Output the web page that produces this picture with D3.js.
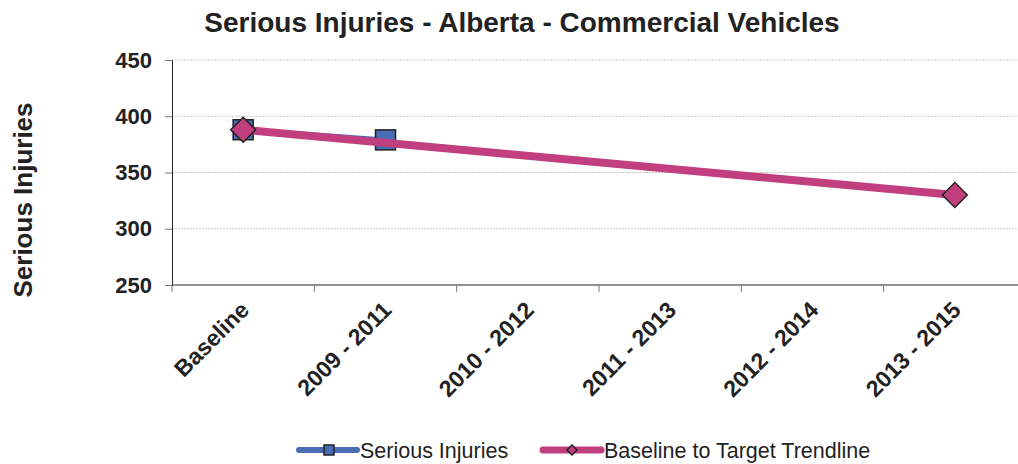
<!DOCTYPE html>
<html>
<head>
<meta charset="utf-8">
<script src="https://cdn.jsdelivr.net/npm/d3@7"></script>
<style>
  body { margin: 0; background: #fff; }
  svg { display: block; font-family: "Liberation Sans", Arial, sans-serif; }
</style>
</head>
<body>
<svg id="viz"></svg>
<script>
// Serious Injuries - Alberta - Commercial Vehicles
const categories = ["Baseline", "2009 - 2011", "2010 - 2012", "2011 - 2013", "2012 - 2014", "2013 - 2015"];
const seriousInjuries = [388, 379, null, null, null, null];
const trendline = [388, null, null, null, null, 330];
const yTicks = [250, 300, 350, 400, 450];

const width = 1018, height = 464;
const margin = { top: 60, left: 172, bottom: 179 };
const plotRight = 1026;

const svg = d3.select("#viz").attr("width", width).attr("height", height);

const x = d3.scaleBand().domain(categories).range([margin.left, plotRight]);
const y = d3.scaleLinear().domain([250, 450]).range([height - margin.bottom, margin.top]);

// gridlines
svg.append("g")
  .selectAll("line")
  .data(yTicks.slice(1))
  .join("line")
  .attr("x1", margin.left).attr("x2", width)
  .attr("y1", d => y(d)).attr("y2", d => y(d))
  .attr("stroke", "#c8c8c8")
  .attr("stroke-dasharray", "2,1")
  .attr("stroke-width", 1);

// y axis
const yAxis = svg.append("g")
  .attr("transform", `translate(${margin.left},0)`)
  .call(d3.axisLeft(y).tickValues(yTicks).tickSize(7).tickPadding(13));
yAxis.select(".domain").attr("stroke", "#222");
yAxis.selectAll(".tick line").attr("stroke", "#777");
yAxis.selectAll("text")
  .attr("fill", "#222")
  .style("font-size", "22px")
  .style("font-weight", "bold")
  .style("font-family", "Liberation Sans, Arial, sans-serif");

// x axis
const xAxis = svg.append("g")
  .attr("transform", `translate(0,${y(250)})`)
  .call(d3.axisBottom(x).tickSize(0).tickFormat(""));
xAxis.select(".domain").attr("stroke", "#222").attr("d", `M${margin.left},0H${plotRight}`);

// category dividers
svg.append("g")
  .selectAll("line")
  .data(categories.concat(["end"]))
  .join("line")
  .attr("x1", (d, i) => margin.left + i * x.step())
  .attr("x2", (d, i) => margin.left + i * x.step())
  .attr("y1", y(250)).attr("y2", y(250) + 7)
  .attr("stroke", "#777");

// x labels rotated
svg.append("g")
  .selectAll("text")
  .data(categories)
  .join("text")
  .attr("transform", d => `translate(${x(d) + x.bandwidth() / 2 - 4},${y(250) + 15}) rotate(-45)`)
  .attr("text-anchor", "end")
  .attr("dy", "0.7em")
  .attr("fill", "#222")
  .style("font-size", "23px")
  .style("font-weight", "bold")
  .text(d => d);

// title
svg.append("text")
  .attr("x", 522).attr("y", 32)
  .attr("text-anchor", "middle")
  .attr("fill", "#222")
  .style("font-size", "28px")
  .style("font-weight", "bold")
  .text("Serious Injuries - Alberta - Commercial Vehicles");

// y axis title
svg.append("text")
  .attr("transform", `translate(32,200) rotate(-90)`)
  .attr("text-anchor", "middle")
  .attr("fill", "#222")
  .style("font-size", "26px")
  .style("font-weight", "bold")
  .text("Serious Injuries");

const blue = "#4a6cb4", pink = "#c13f7e", outline = "#222";
const cx = d => x(d) + x.bandwidth() / 2;

function seriesPoints(vals) {
  return categories.map((c, i) => ({ c, v: vals[i] })).filter(d => d.v != null);
}

const line = d3.line().x(d => cx(d.c)).y(d => y(d.v));

const siPts = seriesPoints(seriousInjuries);
const trPts = seriesPoints(trendline);

svg.append("path").datum(siPts).attr("d", line)
  .attr("fill", "none").attr("stroke", blue).attr("stroke-width", 5);

svg.selectAll(".si-marker")
  .data(siPts)
  .join("rect")
  .attr("class", "si-marker")
  .attr("x", d => cx(d.c) - 10).attr("y", d => y(d.v) - 10)
  .attr("width", 20).attr("height", 20)
  .attr("fill", blue).attr("stroke", outline).attr("stroke-width", 1.5);

svg.append("path").datum(trPts).attr("d", line)
  .attr("fill", "none").attr("stroke", pink).attr("stroke-width", 8);

svg.selectAll(".tr-marker")
  .data(trPts)
  .join("path")
  .attr("class", "tr-marker")
  .attr("d", d3.symbol().type(d3.symbolSquare).size(310))
  .attr("transform", d => `translate(${cx(d.c)},${y(d.v)}) rotate(45)`)
  .attr("fill", pink).attr("stroke", outline).attr("stroke-width", 1.5);

// legend
const legend = svg.append("g").attr("transform", "translate(0,450)");
const legendItems = [
  { name: "Serious Injuries", color: blue, x0: 299, marker: "square", width: 6 },
  { name: "Baseline to Target Trendline", color: pink, x0: 543, marker: "diamond", width: 7 }
];
legendItems.forEach(it => {
  legend.append("line")
    .attr("x1", it.x0).attr("x2", it.x0 + 58)
    .attr("stroke", it.color).attr("stroke-width", it.width).attr("stroke-linecap", "round");
  if (it.marker === "square") {
    legend.append("rect").attr("x", it.x0 + 25).attr("y", -5).attr("width", 10).attr("height", 10)
      .attr("fill", it.color).attr("stroke", outline).attr("stroke-width", 1.5);
  } else {
    legend.append("path").attr("d", d3.symbol().type(d3.symbolSquare).size(50))
      .attr("transform", `translate(${it.x0 + 29},0) rotate(45)`)
      .attr("fill", it.color).attr("stroke", outline).attr("stroke-width", 1.5);
  }
  legend.append("text")
    .attr("x", it.x0 + 61).attr("dy", "0.35em")
    .attr("fill", "#222")
    .style("font-size", "21.5px")
    .text(it.name);
});
</script>
</body>
</html>
